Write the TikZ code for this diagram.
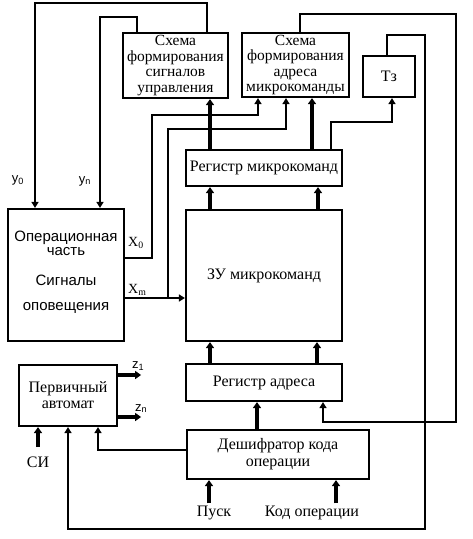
\documentclass[tikz,border=0pt]{standalone}
\usepackage{fontspec}
\setmainfont{Liberation Serif}
\setsansfont{Liberation Sans}
\usetikzlibrary{arrows.meta}

\newcommand\blkfont{\fontsize{16}{16}\selectfont}
\tikzset{
  blk/.style={draw,line width=2.2pt,inner sep=0pt,align=center,font=\blkfont},
  four/.style={font=\fontsize{15.5}{15.5}\selectfont},
  wire/.style={line width=2.2pt},
  tip/.style={-{Triangle[width=7pt,length=6pt]}},
  fat/.style={line width=3.6pt,-{Triangle[width=8pt,length=6pt]}},
  txt/.style={inner sep=2pt,anchor=base,font=\blkfont},
  optxt/.style={inner sep=0pt,anchor=base,font=\sffamily\fontsize{15}{15}\selectfont},
  sig/.style={inner sep=0pt,anchor=base west,font=\fontsize{14}{14}\selectfont},
  sigsf/.style={inner sep=0pt,anchor=base,font=\sffamily\fontsize{13}{13}\selectfont},
}

\begin{document}
\begin{tikzpicture}[x=1pt,y=-1pt]
\useasboundingbox (0,0) rectangle (473,539);
% blocks
\node[blk,four,minimum width=105,minimum height=65] (sfsu) at (175.5,65.5) {Схема\\формирования\\сигналов\\управления};
\node[blk,four,minimum width=107,minimum height=64] (sfam) at (295.5,65) {Схема\\формирования\\адреса\\микрокоманды};
\node[blk,minimum width=52,minimum height=41] (tz) at (389,76.5) {Тз};
\node[blk,minimum width=156,minimum height=36] (regmk) at (264,168) {Регистр микрокоманд};
\node[blk,minimum width=156,minimum height=131] (zu) at (264,275.5) {ЗУ микрокоманд};
\node[blk,minimum width=156,minimum height=37] (rega) at (264,382.5) {Регистр адреса};
\node[blk,minimum width=116,minimum height=132] (oper) at (66,275) {};
\node[blk,minimum width=98,minimum height=61] (perv) at (68,395.5) {Первичный\\автомат};
\node[blk,minimum width=182,minimum height=49,font=\fontsize{16}{17}\selectfont] (desh) at (278,454.5) {Дешифратор кода\\операции};
% text of the operational part
\node[optxt] (op1) at (66,241) {Операционная};
\node[optxt] (op2) at (66,255) {часть};
\node[optxt] (op3) at (66,285) {Сигналы};
\node[optxt] (op4) at (66,310) {оповещения};
% signal labels
\node[sigsf] (y0) at (18,182) {y\textsubscript{0}};
\node[sigsf] (yn) at (85,183) {y\textsubscript{n}};
\node[sig] (x0) at (128,246) {X\textsubscript{0}};
\node[sig] (xm) at (128,293) {X\textsubscript{m}};
\node[sigsf,anchor=base west] (z1) at (132,368) {z\textsubscript{1}};
\node[sigsf,anchor=base west] (zn) at (135,411) {z\textsubscript{n}};
\node[txt] (si) at (38,467) {СИ};
\node[txt] (pusk) at (214,516) {Пуск};
\node[txt] (kod) at (312,516) {Код операции};
% bends
\coordinate (y0c) at (35,3);
\coordinate (ync) at (100,17);
\coordinate (x0a) at (152,115);
\coordinate (xma) at (168,129);
\coordinate (xmb) at (168,298);
\coordinate (tzr) at (425,35);
\coordinate (botl) at (68,529);
\coordinate (sfr) at (456,14);
\coordinate (rain) at (323,422);
\coordinate (dl) at (98,450);
% feedback to the operational part
\draw[wire,line width=2.8pt,tip] ([xshift=31.5]sfsu.north) |- (y0c) -- (oper.north -| y0c);
\draw[wire,line width=2.6pt,tip] ([xshift=-38.5]sfsu.north) |- (ync) -- (oper.north -| ync);
% microinstruction register outputs
\draw[fat] ([xshift=-54]regmk.north) -- ([xshift=-54]regmk.north |- sfsu.south);
\draw[fat] ([xshift=48]regmk.north) -- ([xshift=48]regmk.north |- sfam.south);
\draw[wire,tip] ([xshift=67]regmk.north) -- ++(0,-27) -| ([xshift=3]tz.south);
% condition signals
\draw[wire,tip] ([yshift=17]oper.east) -| (x0a) -| ([xshift=-37.5]sfam.south);
\draw[wire,line width=2.6pt,tip] ([yshift=-23]oper.east) -- (zu.west |- xmb);
\draw[wire,tip] (xmb) -- (xma) -| ([xshift=-9.5]sfam.south);
% loops on the right
\draw[wire,tip] ([xshift=-2]tz.north) |- (tzr) |- (botl) -- (perv.south -| botl);
\draw[wire,tip] ([xshift=4.5]sfam.north) |- (sfr) |- (rain) -- (rega.south -| rain);
% memory path
\foreach \dx in {-54,54}
  \draw[fat] ([xshift=\dx]zu.north) -- ([xshift=\dx]regmk.south);
\foreach \dx in {-54,53}
  \draw[fat] ([xshift=\dx]rega.north) -- ([xshift=\dx]zu.south);
\draw[fat] ([xshift=-21]desh.north) -- ([xshift=-21]desh.north |- rega.south);
\draw[wire,line width=2.8pt,tip] (desh.west |- dl) -| (perv.south -| dl);
% inputs and outputs
\draw[fat] ([yshift=7]si.north) -- (perv.south -| si.north);
\draw[fat] ([yshift=20.5]perv.east) -- ++(23,0);
\draw[fat] ([yshift=-21.5]perv.east) -- ++(23,0);
\draw[fat] ([xshift=-69]desh.south |- pusk.north) -- ([xshift=-69]desh.south);
\draw[fat] ([xshift=58]desh.south |- kod.north) -- ([xshift=58]desh.south);
\end{tikzpicture}
\end{document}
